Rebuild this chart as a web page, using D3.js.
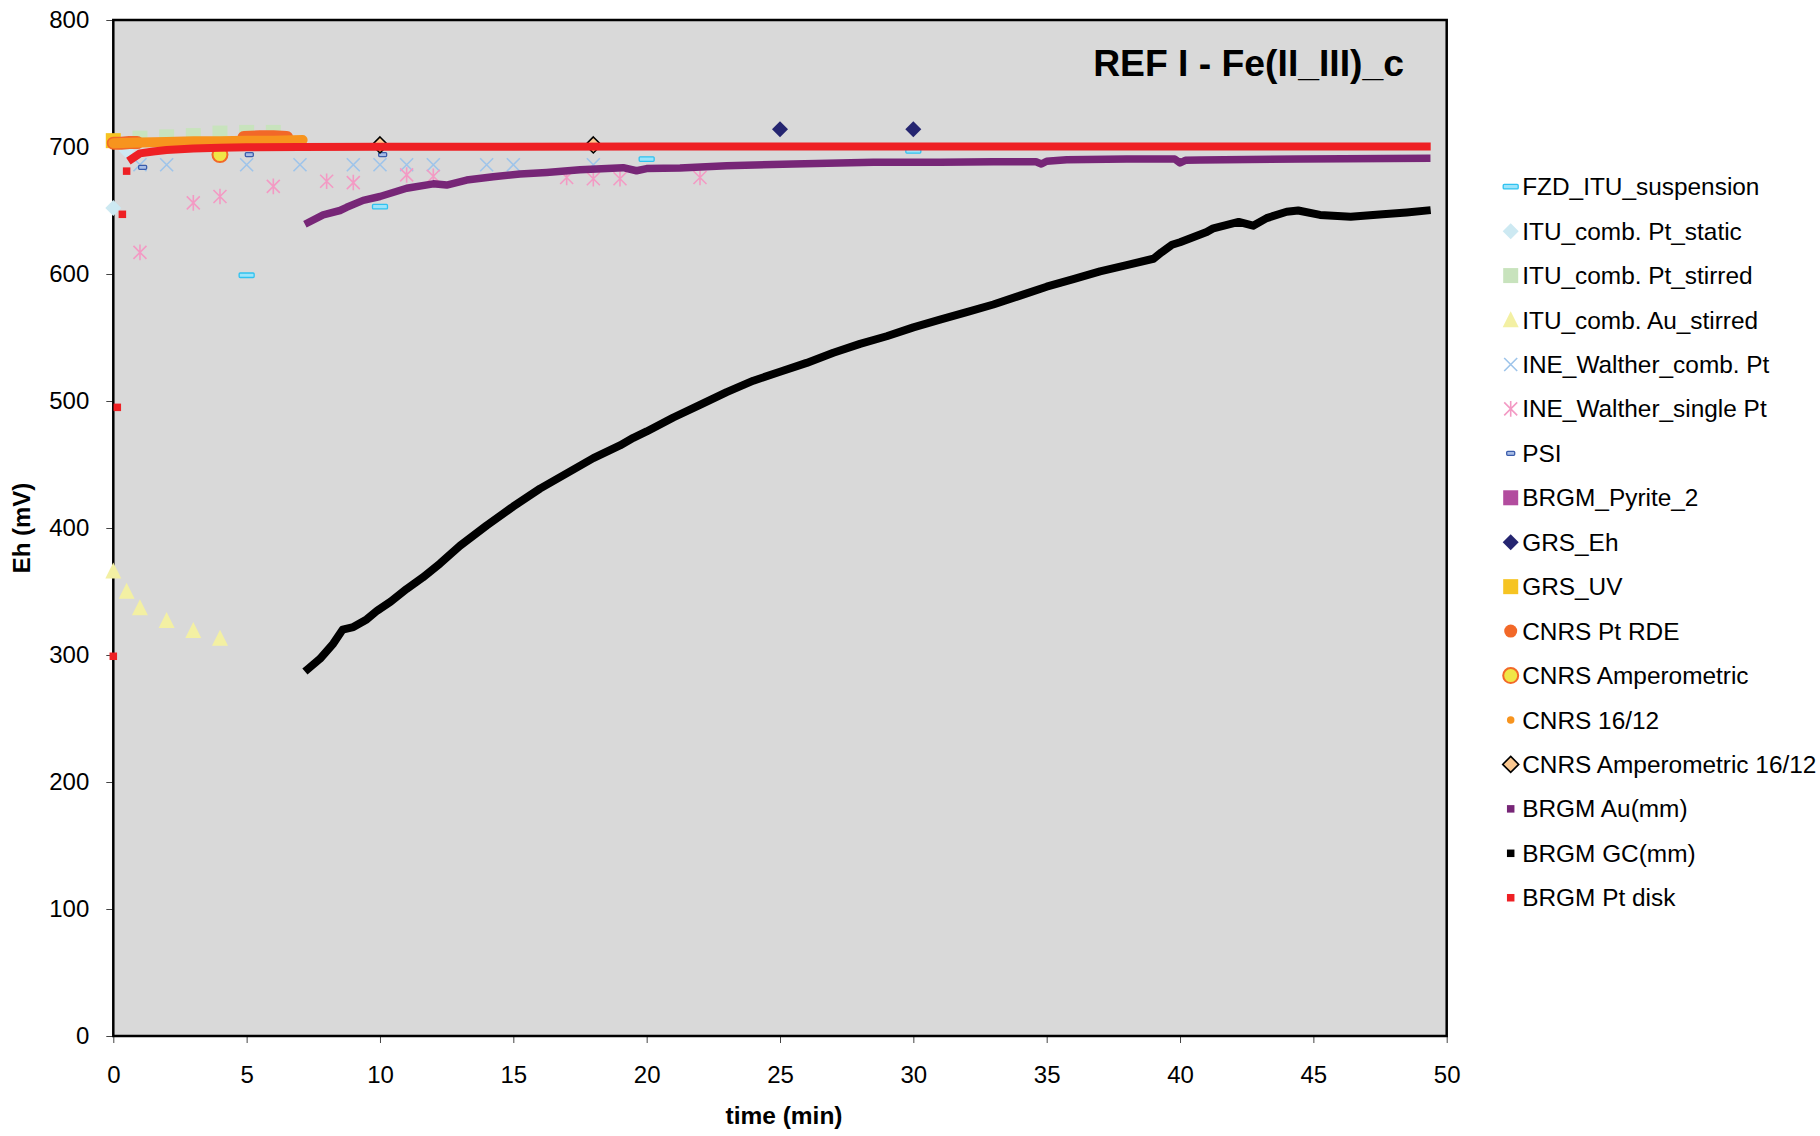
<!DOCTYPE html>
<html>
<head>
<meta charset="utf-8">
<script src="https://cdn.jsdelivr.net/npm/d3@7"></script>
<style>
  body { margin: 0; background: #fff; }
  svg { display: block; font-family: "Liberation Sans", Arial, sans-serif; }
</style>
</head>
<body>
<svg id="chart" width="1820" height="1136"></svg>
<script>
// ---- axis ticks -----------------------------------------------------------
const xTicks = [0, 5, 10, 15, 20, 25, 30, 35, 40, 45, 50];
const yTicks = [0, 100, 200, 300, 400, 500, 600, 700, 800];

// ---- series labels (legend order = drawing order) ------------------------
const seriesNames = [
  "FZD_ITU_suspension", "ITU_comb. Pt_static", "ITU_comb. Pt_stirred",
  "ITU_comb. Au_stirred", "INE_Walther_comb. Pt", "INE_Walther_single Pt",
  "PSI", "BRGM_Pyrite_2", "GRS_Eh", "GRS_UV", "CNRS Pt RDE",
  "CNRS Amperometric", "CNRS 16/12", "CNRS Amperometric 16/12",
  "BRGM Au(mm)", "BRGM GC(mm)", "BRGM Pt disk"
];

// ---- measurements: [time (min), Eh (mV)] ----------------------------------
const fzdItuSuspension = [[5, 599], [10, 653], [20, 690.5], [30, 697]];
const ituPtStatic = [[0, 652], [0.5, 697], [2, 705.5], [3, 708]];
const ituPtStirred = [[1, 707], [2, 708], [3, 709], [4, 711], [5, 711.5], [6, 711.5]];
const ituAuStirred = [[0, 366], [0.5, 350], [1, 337], [2, 327], [3, 319], [4, 313]];
const ineCombPt = [[1, 686], [2, 686], [5, 686], [7, 686], [9, 686], [10, 686],
                   [11, 686], [12, 686], [14, 686], [15, 686], [18, 686]];
const ineSinglePt = [[1, 617], [3, 656], [4, 661], [6, 669], [8, 673], [9, 672],
                     [11, 678], [12, 677], [17, 676], [18, 675], [19, 675], [22, 676]];
const psi = [[1.1, 684], [5.1, 694], [10.1, 694]];
const brgmPyrite2 = [];
const grsEh = [[25, 714], [30, 714]];
const grsUv = [[0, 705]];
const cnrsPtRdeA = [[0, 703], [0.3, 703], [0.6, 703.5], [0.9, 703.5]];
const cnrsPtRdeB = [[4.9, 707.5], [5.5, 708], [6, 708], [6.5, 707.5]];
const cnrsAmperometric = [[4, 694]];
const cnrs1612 = [[0, 703], [1, 703.5], [2, 704], [3, 704.5], [4, 704.5],
                  [5, 705], [6, 705], [7.1, 705.5]];
const cnrsAmp1612 = [[10, 701.6], [18, 701.6]];
const brgmAuMm = [
  [7.31, 640.5], [7.87, 646.5], [8.5, 650], [8.75, 652.5], [9.37, 658], [10, 661],
  [11, 667.5], [12, 671], [12.5, 670], [13.25, 674], [14.25, 676.6], [15.25, 678.7],
  [16.25, 680], [17.5, 682], [19.12, 683.7], [19.62, 681.3], [20, 683], [21.25, 683.5],
  [23, 685.3], [25.5, 686.6], [28.5, 688], [31, 688], [33, 688.4], [34.6, 688.4],
  [34.8, 686.6], [35, 688.8], [35.75, 690], [38, 690.5], [39.8, 690.5], [40, 687.5],
  [40.2, 689.5], [40.75, 689.8], [44.5, 690.6], [49.25, 691.1]
];
const brgmGcMm = [
  [7.3, 289], [7.75, 297], [8.25, 309], [8.6, 320], [9, 322], [9.5, 328], [9.9, 335],
  [10.4, 342], [11, 352], [11.6, 361], [12.25, 372], [13, 386], [14, 402], [15, 417],
  [16, 431], [17, 443], [18, 455], [19, 465], [19.5, 471], [20, 476], [21, 487],
  [22, 497], [23, 507], [24, 516], [25, 523], [26, 530], [27, 538], [28, 545],
  [29, 551], [30, 558], [31, 564], [32, 570], [33, 576], [34, 583], [35, 590],
  [36, 596], [37, 602], [38, 607], [39, 612], [39.3, 617], [39.7, 623], [40, 625],
  [41, 633], [41.25, 636], [42.2, 641], [42.74, 638], [43.25, 644], [44, 649],
  [44.43, 650], [45.25, 646.5], [46.4, 645], [47.6, 647], [48.5, 648.5], [49.25, 650]
];
const brgmPtDiskEarly = [[0, 299], [0.15, 495], [0.34, 647], [0.5, 681]];
const brgmPtDisk = [
  [0.69, 690.6], [1, 695], [1.5, 696.5], [2, 697.6], [3, 698.8], [4, 699.5],
  [5, 699.8], [7, 700], [10, 700.2], [20, 700.3], [30, 700.3], [40, 700.3], [49.25, 700.3]
];

// ---- layout ---------------------------------------------------------------
const svg = d3.select("#chart");
const x = d3.scaleLinear().domain([0, 50]).range([113.3, 1446.7]);
const y = d3.scaleLinear().domain([0, 800]).range([1036, 20]);

// plot area
svg.append("rect")
  .attr("x", x(0)).attr("y", y(800))
  .attr("width", x(50) - x(0)).attr("height", y(0) - y(800))
  .attr("fill", "#d9d9d9");

// axes
const gx = svg.append("g")
  .attr("transform", `translate(0,${y(0)})`)
  .call(d3.axisBottom(x).tickValues(xTicks).tickSize(7).tickPadding(23));
const gy = svg.append("g")
  .attr("transform", `translate(${x(0)},0)`)
  .call(d3.axisLeft(y).tickValues(yTicks).tickSize(7).tickPadding(17));
[gx, gy].forEach(g => {
  g.select(".domain").remove();
  g.selectAll(".tick line").attr("stroke", "#444").attr("stroke-width", 1);
  g.selectAll(".tick text").attr("font-size", 24).attr("fill", "#000")
    .attr("font-family", "Liberation Sans, Arial, sans-serif");
});

// frame
svg.append("rect")
  .attr("x", x(0)).attr("y", y(800))
  .attr("width", x(50) - x(0)).attr("height", y(0) - y(800))
  .attr("fill", "none").attr("stroke", "#000").attr("stroke-width", 2.5);

// axis titles
svg.append("text")
  .attr("transform", `translate(30,${(y(0) + y(800)) / 2}) rotate(-90)`)
  .attr("text-anchor", "middle").attr("font-weight", "bold").attr("font-size", 24)
  .text("Eh (mV)");
svg.append("text")
  .attr("x", (x(0) + x(50)) / 2 + 4).attr("y", 1124)
  .attr("text-anchor", "middle").attr("font-weight", "bold").attr("font-size", 24.5)
  .text("time (min)");

// chart title
svg.append("text")
  .attr("x", 1404).attr("y", 76)
  .attr("text-anchor", "end").attr("font-weight", "bold").attr("font-size", 37.3)
  .text("REF I - Fe(II_III)_c");

// ---- marker shapes --------------------------------------------------------
function drawMarker(g, m) {
  const s = m.size;
  switch (m.shape) {
    case "dash":
      g.append("rect").attr("x", -s / 2).attr("y", -m.h / 2)
        .attr("width", s).attr("height", m.h).attr("rx", 1)
        .attr("fill", m.fill).attr("stroke", m.stroke).attr("stroke-width", 1.3);
      break;
    case "diamond":
      g.append("path").attr("d", `M0,${-s / 2}L${s / 2},0L0,${s / 2}L${-s / 2},0Z`)
        .attr("fill", m.fill).attr("stroke", m.stroke || "none")
        .attr("stroke-width", m.sw || 0);
      break;
    case "square":
      g.append("rect").attr("x", -s / 2).attr("y", -s / 2)
        .attr("width", s).attr("height", s).attr("fill", m.fill);
      break;
    case "triangle":
      g.append("path").attr("d", `M0,${-s * 0.55}L${s / 2},${s * 0.45}L${-s / 2},${s * 0.45}Z`)
        .attr("fill", m.fill);
      break;
    case "x":
      g.append("path").attr("d", `M${-s / 2},${-s / 2}L${s / 2},${s / 2}M${-s / 2},${s / 2}L${s / 2},${-s / 2}`)
        .attr("stroke", m.stroke).attr("stroke-width", 1.6).attr("fill", "none");
      break;
    case "star":
      g.append("path").attr("d", `M${-s / 2},${-s / 2}L${s / 2},${s / 2}M${-s / 2},${s / 2}L${s / 2},${-s / 2}M0,${-s * 0.6}L0,${s * 0.6}`)
        .attr("stroke", m.stroke).attr("stroke-width", 1.6).attr("fill", "none");
      break;
    case "circle":
      g.append("circle").attr("r", s / 2).attr("fill", m.fill)
        .attr("stroke", m.stroke || "none").attr("stroke-width", m.sw || 0);
      break;
  }
}

// ---- series table ---------------------------------------------------------
const series = [
  { points: fzdItuSuspension, marker: { shape: "dash", size: 15, h: 4.5, fill: "#9be4fb", stroke: "#2fc2f0" } },
  { points: ituPtStatic, marker: { shape: "diamond", size: 16, fill: "#cde9f2" } },
  { points: ituPtStirred, marker: { shape: "square", size: 15, fill: "#c8e3bd" } },
  { points: ituAuStirred, marker: { shape: "triangle", size: 16, fill: "#f3f0a3" } },
  { points: ineCombPt, marker: { shape: "x", size: 13, stroke: "#9ec4ea" } },
  { points: ineSinglePt, marker: { shape: "star", size: 13, stroke: "#f39ac4" } },
  { points: psi, marker: { shape: "dash", size: 8, h: 4, fill: "#a8bde6", stroke: "#3b5cab" } },
  { points: brgmPyrite2, marker: { shape: "square", size: 15, fill: "#b24c9e" } },
  { points: grsEh, marker: { shape: "diamond", size: 16, fill: "#252570" } },
  { points: grsUv, marker: { shape: "square", size: 15, fill: "#f6c422" } },
  { traces: [cnrsPtRdeA, cnrsPtRdeB], width: 13, color: "#f26828", cap: "round",
    marker: { shape: "circle", size: 13, fill: "#f26828" } },
  { points: cnrsAmperometric, marker: { shape: "circle", size: 15, fill: "#f0e646", stroke: "#f26828", sw: 2 } },
  { traces: [cnrs1612], width: 10, color: "#f7941e", cap: "round",
    marker: { shape: "circle", size: 7.5, fill: "#f7941e" } },
  { points: cnrsAmp1612, marker: { shape: "diamond", size: 16, fill: "#fbc890", stroke: "#000", sw: 1.6 } },
  { traces: [brgmAuMm], width: 7.5, color: "#772677", cap: "square",
    marker: { shape: "square", size: 7.5, fill: "#772677" } },
  { traces: [brgmGcMm], width: 8, color: "#000000", cap: "square",
    marker: { shape: "square", size: 7.5, fill: "#000000" } },
  { points: brgmPtDiskEarly, traces: [brgmPtDisk], width: 8, color: "#ee2024", cap: "square",
    marker: { shape: "square", size: 7.5, fill: "#ee2024" } }
];

const line = d3.line().x(d => x(d[0])).y(d => y(d[1]));
const plot = svg.append("g");

series.forEach(s => {
  const g = plot.append("g");
  (s.traces || []).forEach(tr => {
    g.append("path").datum(tr).attr("d", line)
      .attr("fill", "none").attr("stroke", s.color).attr("stroke-width", s.width)
      .attr("stroke-linecap", s.cap).attr("stroke-linejoin", "round");
  });
  g.selectAll("g.pt").data(s.points || []).join("g")
    .attr("class", "pt")
    .attr("transform", d => `translate(${x(d[0])},${y(d[1])})`)
    .each(function () { drawMarker(d3.select(this), s.marker); });
});

// ---- legend ---------------------------------------------------------------
const legend = svg.append("g").attr("transform", "translate(1510.7,186.7)");
seriesNames.forEach((name, i) => {
  const item = legend.append("g").attr("transform", `translate(0,${i * 44.44})`);
  drawMarker(item, series[i].marker);
  item.append("text").attr("x", 11.5).attr("dy", "0.35em")
    .attr("font-size", 24.4).attr("fill", "#000").text(name);
});
</script>
</body>
</html>
